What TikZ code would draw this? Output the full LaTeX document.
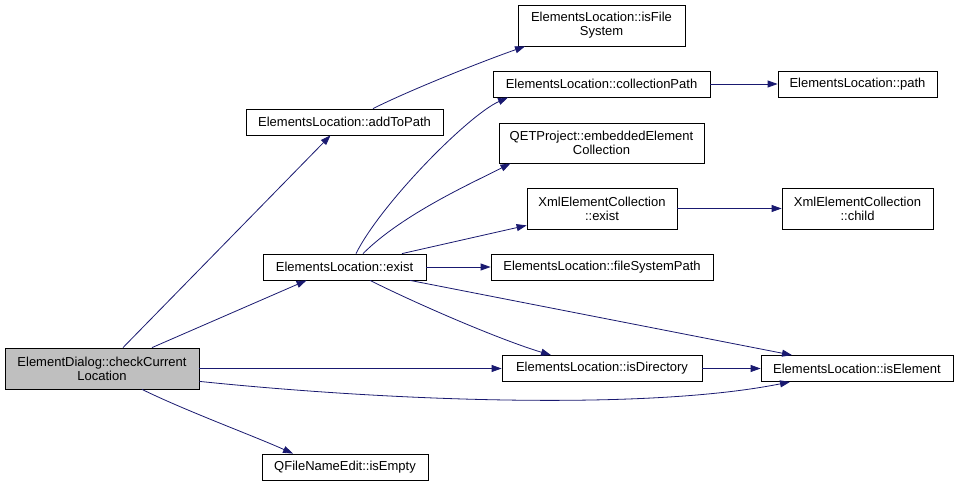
\documentclass[tikz,border=0pt]{standalone}
\usepackage{fontspec}
\setmainfont{Liberation Sans}
\usetikzlibrary{arrows.meta}
\definecolor{edgeblue}{HTML}{191970}

\begin{document}
\begin{tikzpicture}[x=1pt,y=-1pt,
  fn/.style={draw=black,line width=0.8pt,fill=white,font=\fontsize{13}{14}\selectfont,inner sep=0pt,align=center,minimum height=26pt},
  fn2/.style={fn,minimum height=41pt},
  root/.style={fn2,fill=gray!50},
  call/.style={-{Triangle[length=10pt,width=7pt]},draw=edgeblue,line width=0.8pt}]
  \fill[white] (0,0) rectangle (959,489);
  \useasboundingbox (0,0) rectangle (959,489);
  \node[root, minimum width=194pt] (check) at (102,368.5) {ElementDialog::checkCurrent\\Location};
  \node[fn, minimum width=197pt] (addToPath) at (344.5,122) {ElementsLocation::addToPath};
  \node[fn2, minimum width=167pt] (isFileSystem) at (601.5,25.5) {ElementsLocation::isFile\\System};
  \node[fn, minimum width=217pt] (collectionPath) at (601.5,84) {ElementsLocation::collectionPath};
  \node[fn, minimum width=159pt] (path) at (857.5,84) {ElementsLocation::path};
  \node[fn2, minimum width=205pt, minimum height=40pt] (embedded) at (601.5,143) {QETProject::embeddedElement\\Collection};
  \node[fn2, minimum width=150pt] (xmlExist) at (602,208.5) {XmlElementCollection\\::exist};
  \node[fn2, minimum width=151pt] (xmlChild) at (857.5,208.5) {XmlElementCollection\\::child};
  \node[fn, minimum width=163pt] (exist) at (344.5,267) {ElementsLocation::exist};
  \node[fn, minimum width=222pt] (fileSystemPath) at (602,267) {ElementsLocation::fileSystemPath};
  \node[fn, minimum width=200pt] (isDirectory) at (602,368.5) {ElementsLocation::isDirectory};
  \node[fn, minimum width=192pt] (isElement) at (857,368.5) {ElementsLocation::isElement};
  \node[fn, minimum width=166pt] (isEmpty) at (345,467) {QFileNameEdit::isEmpty};
  % straight calls
  \foreach \a/\b in {check/isDirectory, exist/fileSystemPath, collectionPath/path, xmlExist/xmlChild, isDirectory/isElement} {\draw[call] (\a.east) -- (\b.west);}
  \draw[call] ([xshift=21pt]check.north) -- ([xshift=-14pt]addToPath.south);
  \draw[call] ([xshift=50pt]check.north) -- ([xshift=-38pt]exist.south);
  \draw[call] ([yshift=8pt]check.south east) .. controls (400,402) and (650,410) .. ([xshift=-67pt]isElement.south);
  \draw[call] ([xshift=40pt]check.south) .. controls +(45,22) and +(-40,-18) .. ([xshift=-52pt]isEmpty.north);
  \draw[call] ([xshift=28.5pt]addToPath.north) .. controls +(40,-20) and +(-40,14) .. ([xshift=-76.5pt]isFileSystem.south);
  \draw[call] ([xshift=11.5pt]exist.north) .. controls +(25,-50) and +(-40,18) .. ([xshift=-93.5pt]collectionPath.south);
  \draw[call] ([xshift=18.5pt]exist.north) .. controls +(40,-40) and +(-35,18) .. ([xshift=-91pt]embedded.south);
  \draw[call] ([xshift=57.5pt]exist.north) -- ([yshift=4pt]xmlExist.south west);
  \draw[call] ([xshift=25.5pt]exist.south) .. controls +(50,25) and +(-50,-15) .. ([xshift=-51pt]isDirectory.north);
  \draw[call] ([xshift=65.5pt]exist.south) -- ([xshift=-65pt]isElement.north);
\end{tikzpicture}
\end{document}
